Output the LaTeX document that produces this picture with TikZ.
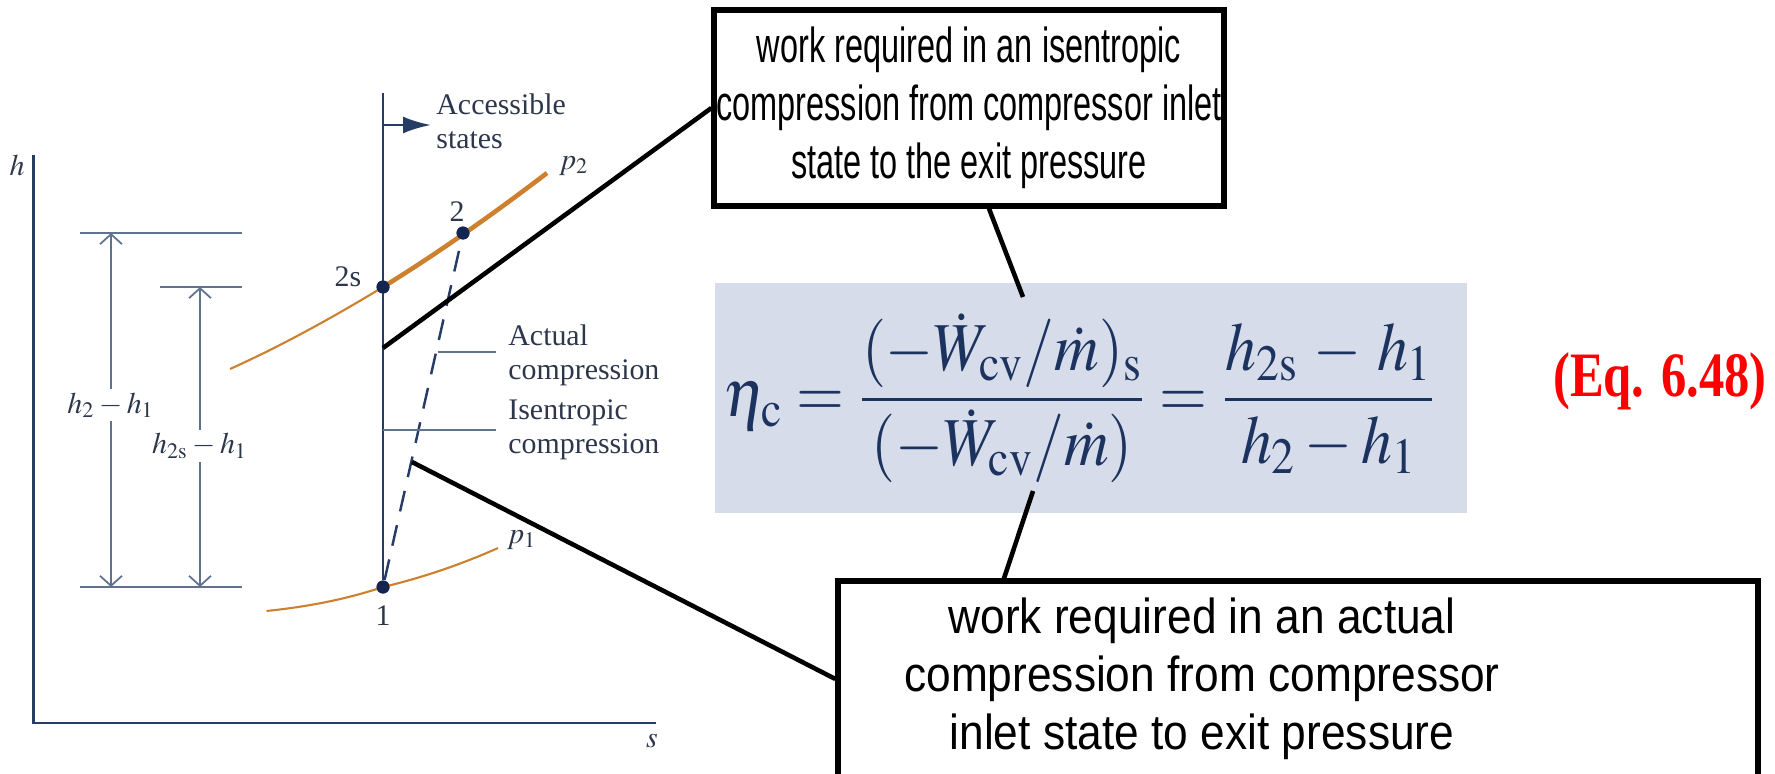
\documentclass[tikz,border=0pt]{standalone}
\usepackage{graphicx}
\usepackage{mathptmx}
\usepackage{fontspec}
\setmainfont{Liberation Serif}
\newfontfamily\calloutfont[FakeStretch=0.66]{Liberation Sans}
\newfontfamily\calloutfontwide[FakeStretch=0.9]{Liberation Sans}
\newfontfamily\eqnumfont[FakeStretch=0.8]{Liberation Serif}
\usetikzlibrary{arrows.meta, positioning}

\definecolor{figblue}{RGB}{38,60,100}
\definecolor{figgray}{RGB}{95,115,140}
\definecolor{curveorange}{RGB}{205,128,45}
\definecolor{dotblue}{RGB}{20,38,80}
\definecolor{labelcol}{RGB}{45,55,75}
\definecolor{eqbg}{RGB}{214,220,233}
\definecolor{eqblue}{RGB}{28,50,95}

\begin{document}
\begin{tikzpicture}[>=Stealth, font=\fontsize{8.5}{9.6}\selectfont,
  figline/.style={draw=figblue, line width=0.7pt},
  thinline/.style={draw=figgray, line width=0.5pt},
  isobar/.style={draw=curveorange, line width=0.6pt},
  isobarthick/.style={draw=curveorange, line width=1.3pt},
  dot/.style={circle, fill=dotblue, inner sep=0pt, minimum size=1.3mm},
  lbl/.style={text=labelcol},
  dim/.style={thinline, {Straight Barb[length=1mm,width=2.2mm]}-{Straight Barb[length=1mm,width=2.2mm]}},
  callout/.style={draw=black, line width=1.3pt},
  calloutbox/.style={draw=black, line width=1.5pt, fill=white, align=center, inner sep=0pt}]
  \useasboundingbox (0,0) rectangle (17.75,7.73);

  % h-s axes
  \coordinate (htop) at (0.335,6.18);
  \coordinate (orig) at (0.335,0.50);
  \coordinate (send) at (6.56,0.50);
  \draw[figline] (htop) -- (orig) -- (send);
  \node[lbl] (hlab) at (0.17,6.08) {$h$};
  \node[lbl] (slab) at (6.52,0.32) {$s$};

  % states
  \node[dot] (n1) at (3.83,1.86) {};
  \node[dot] (n2s) at (3.83,4.86) {};
  \node[dot] (n2) at (4.63,5.40) {};
  \node[lbl] (lab1) at (3.83,1.57) {1};
  \node[lbl] (lab2s) at (3.48,4.96) {2s};
  \node[lbl] (lab2) at (4.57,5.61) {2};

  % isentrope and accessible states
  \coordinate (isotop) at (3.83,6.80);
  \draw[figline] (isotop) -- (n1);
  \coordinate (acc0) at (3.83,6.48);
  \coordinate (acc1) at (4.31,6.48);
  \draw[figline, line width=0.8pt, -{Latex[length=2.8mm,width=1.7mm]}] (acc0) -- (acc1);
  \node[lbl, anchor=west, align=left] (acclab) at (4.24,6.52) {Accessible\\states};

  % isobars
  \draw[isobar] (2.30,4.04) .. controls (2.81,4.27) and (3.32,4.55) .. (n2s.center);
  \draw[isobarthick] (n2s.center) .. controls (4.38,5.20) and (4.92,5.58) .. (5.47,6.00);
  \node[lbl] (p2lab) at (5.74,6.07) {$p_2$};
  \draw[isobar] (2.665,1.62) .. controls (3.05,1.66) and (3.44,1.73) .. (n1.center);
  \draw[isobar] (n1.center) .. controls (4.21,1.95) and (4.60,2.08) .. (4.98,2.25);
  \node[lbl] (p1lab) at (5.22,2.33) {$p_1$};

  % actual process
  \draw[figline, dash pattern=on 6pt off 4pt] (n1) -- (n2);
  \node[dot] at (n1) {};
  \node[dot] at (n2s) {};
  \node[dot] at (n2) {};

  % enthalpy differences
  \coordinate (d2a) at (0.80,5.40);
  \coordinate (d2b) at (2.42,5.40);
  \coordinate (d2sa) at (1.60,4.86);
  \coordinate (d2sb) at (2.42,4.86);
  \coordinate (d1a) at (0.80,1.86);
  \coordinate (d1b) at (2.42,1.86);
  \draw[thinline] (d2a) -- (d2b);
  \draw[thinline] (d2sa) -- (d2sb);
  \draw[thinline] (d1a) -- (d1b);
  \coordinate (a2top) at (1.11,5.40);
  \coordinate (a2bot) at (1.11,1.86);
  \coordinate (a2stop) at (2.00,4.86);
  \coordinate (a2sbot) at (2.00,1.86);
  \draw[dim] (a2top) -- (a2bot);
  \draw[dim] (a2stop) -- (a2sbot);
  \node[lbl, fill=white, inner sep=1pt] (dh2) at (1.11,3.68) {$h_2 - h_1$};
  \node[lbl, fill=white, inner sep=1pt] (dh2s) at (2.00,3.27) {$h_{2\mathrm{s}} - h_1$};

  % process labels
  \coordinate (actfoot) at (4.375,4.21);
  \node[lbl, anchor=west, align=left] (actlab) at (4.96,4.175) {Actual\\compression};
  \draw[thinline] (actfoot) -- (actlab.west |- actfoot);
  \coordinate (isfoot) at (3.83,3.43);
  \node[lbl, anchor=west, align=left] (isenlab) at (4.96,3.43) {Isentropic\\compression};
  \draw[thinline] (isfoot) -- (isenlab.west |- isfoot);

  % efficiency
  \node[fill=eqbg, minimum width=7.52cm, minimum height=2.30cm, inner sep=0pt] (eqbox) at (10.91,3.75) {};
  \node[text=eqblue, font=\fontsize{19.5}{22}\selectfont] (eq) at (10.80,3.75)
    {\scalebox{0.9}[1]{$\displaystyle \eta_{\mathrm{c}} = \frac{(-\dot{W}_{\mathrm{cv}}/\dot{m})_{\mathrm{s}}}{(-\dot{W}_{\mathrm{cv}}/\dot{m})} = \frac{h_{2\mathrm{s}} \,-\, h_1}{h_2 - h_1}$}};
  \node[text=red, font=\eqnumfont\bfseries\fontsize{18}{21}\selectfont] (eqnum) at (16.60,3.92) {(Eq. 6.48)};

  % callouts
  \node[calloutbox, minimum width=5.10cm, minimum height=1.96cm, font=\calloutfont\fontsize{14}{16.5}\selectfont] (topbox) at (9.69,6.65)
    {work required in an isentropic\\compression from compressor inlet\\state to the exit pressure};
  \node[calloutbox, minimum width=9.20cm, minimum height=1.96cm] (botbox) at (12.98,0.94) {};
  \node[align=center, inner sep=0pt, font=\calloutfontwide\fontsize{14}{16.5}\selectfont] (bottext) at (12.02,0.94)
    {work required in an actual\\compression from compressor\\inlet state to exit pressure};
  \coordinate (ptA) at (3.83,4.25);
  \coordinate (ptB) at (4.12,3.11);
  \coordinate (eqtop) at (10.23,4.76);
  \coordinate (eqbot) at (10.33,2.82);
  \draw[callout] (ptA) -- (topbox.west);
  \draw[callout] (ptB) -- (botbox.west);
  \draw[callout] ([xshift=2mm]topbox.south) -- (eqtop);
  \draw[callout] (eqbot) -- ([xshift=-29.4mm]botbox.north);
\end{tikzpicture}
\end{document}
